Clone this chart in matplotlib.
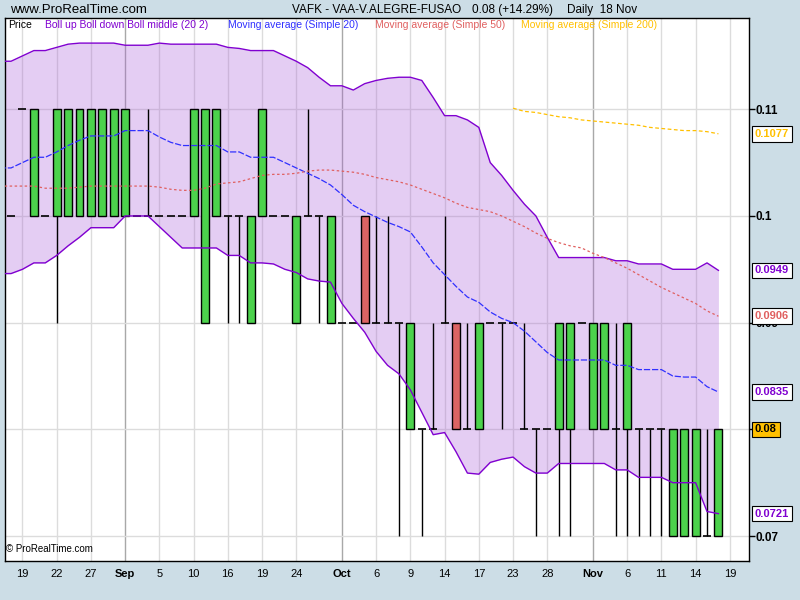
import numpy as np
import matplotlib
matplotlib.use('Agg')
import matplotlib.pyplot as plt

plt.rcParams['font.family'] = ['Liberation Sans', 'DejaVu Sans']

# === DATA ===
# daily candles, Aug 19 .. Nov 18 (index 0..62)
opens = [0.10, 0.11, 0.10, 0.10, 0.10, 0.10, 0.10, 0.10, 0.10, 0.10,
         0.10, 0.10, 0.10, 0.10, 0.10, 0.10, 0.10, 0.09, 0.10, 0.10,
         0.10, 0.09, 0.10, 0.10, 0.10, 0.09, 0.10, 0.10, 0.09, 0.09,
         0.09, 0.10, 0.09, 0.09, 0.09, 0.08, 0.08, 0.08, 0.09, 0.09,
         0.08, 0.08, 0.09, 0.09, 0.09, 0.08, 0.08, 0.08, 0.08, 0.08,
         0.09, 0.08, 0.08, 0.08, 0.08, 0.08, 0.08, 0.08, 0.07, 0.07,
         0.07, 0.07, 0.07]
highs = [0.10, 0.11, 0.11, 0.10, 0.11, 0.11, 0.11, 0.11, 0.11, 0.11,
         0.11, 0.10, 0.11, 0.10, 0.10, 0.10, 0.11, 0.11, 0.11, 0.10,
         0.10, 0.10, 0.11, 0.10, 0.10, 0.10, 0.11, 0.10, 0.10, 0.09,
         0.09, 0.10, 0.10, 0.10, 0.09, 0.09, 0.08, 0.09, 0.10, 0.09,
         0.09, 0.09, 0.09, 0.09, 0.09, 0.09, 0.08, 0.08, 0.09, 0.09,
         0.09, 0.09, 0.09, 0.09, 0.09, 0.08, 0.08, 0.08, 0.08, 0.08,
         0.08, 0.08, 0.08]
lows = [0.10, 0.11, 0.10, 0.10, 0.09, 0.10, 0.10, 0.10, 0.10, 0.10,
        0.10, 0.10, 0.10, 0.10, 0.10, 0.10, 0.10, 0.09, 0.10, 0.09,
        0.09, 0.09, 0.10, 0.10, 0.10, 0.09, 0.10, 0.09, 0.09, 0.09,
        0.09, 0.09, 0.09, 0.09, 0.07, 0.08, 0.07, 0.08, 0.09, 0.08,
        0.08, 0.08, 0.09, 0.08, 0.09, 0.08, 0.07, 0.08, 0.07, 0.07,
        0.09, 0.08, 0.08, 0.07, 0.07, 0.07, 0.07, 0.07, 0.07, 0.07,
        0.07, 0.07, 0.07]
closes = [0.10, 0.11, 0.11, 0.10, 0.11, 0.11, 0.11, 0.11, 0.11, 0.11,
          0.11, 0.10, 0.10, 0.10, 0.10, 0.10, 0.11, 0.11, 0.11, 0.10,
          0.10, 0.10, 0.11, 0.10, 0.10, 0.10, 0.10, 0.10, 0.10, 0.09,
          0.09, 0.09, 0.09, 0.09, 0.09, 0.09, 0.08, 0.08, 0.09, 0.08,
          0.08, 0.09, 0.09, 0.09, 0.09, 0.08, 0.08, 0.08, 0.09, 0.09,
          0.09, 0.09, 0.09, 0.08, 0.09, 0.08, 0.08, 0.08, 0.08, 0.08,
          0.08, 0.07, 0.08]

# indicators start one day earlier (index -1 .. 62)
boll_up = [0.1145, 0.1145, 0.1150, 0.1155, 0.1155, 0.1158, 0.1161, 0.1162, 0.1162, 0.1162,
           0.1162, 0.1160, 0.1160, 0.1160, 0.1162, 0.1161, 0.1161, 0.1161, 0.1161, 0.1161,
           0.1158, 0.1157, 0.1155, 0.1155, 0.1155, 0.1150, 0.1145, 0.1139, 0.1130, 0.1122,
           0.1122, 0.1118, 0.1124, 0.1127, 0.1129, 0.1130, 0.1130, 0.1127, 0.1111, 0.1094,
           0.1094, 0.1090, 0.1083, 0.1050, 0.1038, 0.1024, 0.1011, 0.1000, 0.0980, 0.0961,
           0.0961, 0.0961, 0.0961, 0.0961, 0.0958, 0.0958, 0.0955, 0.0955, 0.0955, 0.0950,
           0.0950, 0.0950, 0.0956, 0.0949]
boll_down = [0.0946, 0.0946, 0.0950, 0.0956, 0.0956, 0.0963, 0.0972, 0.0980, 0.0989, 0.0989,
             0.0989, 0.1000, 0.1000, 0.1000, 0.0990, 0.0980, 0.0970, 0.0970, 0.0970, 0.0970,
             0.0963, 0.0963, 0.0956, 0.0956, 0.0955, 0.0950, 0.0947, 0.0941, 0.0939, 0.0938,
             0.0918, 0.0904, 0.0891, 0.0873, 0.0860, 0.0852, 0.0837, 0.0816, 0.0795, 0.0797,
             0.0779, 0.0759, 0.0758, 0.0769, 0.0772, 0.0774, 0.0765, 0.0759, 0.0759, 0.0768,
             0.0768, 0.0768, 0.0768, 0.0768, 0.0762, 0.0762, 0.0755, 0.0755, 0.0755, 0.0750,
             0.0750, 0.0750, 0.0723, 0.0721]
ma20 = [0.1045, 0.1045, 0.1050, 0.1055, 0.1055, 0.1060, 0.1066, 0.1071, 0.1075, 0.1075,
        0.1075, 0.1080, 0.1080, 0.1080, 0.1074, 0.1069, 0.1066, 0.1066, 0.1066, 0.1066,
        0.1060, 0.1060, 0.1055, 0.1055, 0.1055, 0.1050, 0.1045, 0.1040, 0.1035, 0.1029,
        0.1020, 0.1010, 0.1004, 0.0999, 0.0994, 0.0990, 0.0985, 0.0971, 0.0956, 0.0945,
        0.0934, 0.0924, 0.0919, 0.0910, 0.0904, 0.0900, 0.0892, 0.0882, 0.0872, 0.0865,
        0.0865, 0.0865, 0.0865, 0.0865, 0.0860, 0.0860, 0.0856, 0.0856, 0.0856, 0.0850,
        0.0849, 0.0849, 0.0840, 0.0835]
ma50 = [0.1028, 0.1028, 0.1028, 0.1028, 0.1026, 0.1026, 0.1026, 0.1027, 0.1028, 0.1028,
        0.1028, 0.1028, 0.1028, 0.1028, 0.1027, 0.1025, 0.1024, 0.1024, 0.1026, 0.1030,
        0.1031, 0.1032, 0.1035, 0.1038, 0.1039, 0.1039, 0.1040, 0.1042, 0.1043, 0.1043,
        0.1042, 0.1041, 0.1039, 0.1036, 0.1034, 0.1032, 0.1029, 0.1025, 0.1021, 0.1017,
        0.1012, 0.1008, 0.1006, 0.1004, 0.1000, 0.0995, 0.0990, 0.0984, 0.0979, 0.0975,
        0.0972, 0.0970, 0.0965, 0.0961, 0.0956, 0.0951, 0.0945, 0.0939, 0.0933, 0.0928,
        0.0923, 0.0918, 0.0911, 0.0906]
ma200 = [np.nan] * 45 + [0.1101, 0.1098, 0.1097, 0.1095, 0.1093, 0.1092, 0.1090, 0.1089,
                         0.1088, 0.1087, 0.1086, 0.1085, 0.1083, 0.1082, 0.1081, 0.1080,
                         0.1080, 0.1079, 0.1077]

tick_days = [1, 4, 7, 10, 13, 16, 19, 22, 25, 29, 32, 35, 38, 41, 44, 47, 51, 54, 57, 60, 63]
tick_labels = ['19', '22', '27', 'Sep', '5', '10', '16', '19', '24', 'Oct', '6', '9',
               '14', '17', '23', '28', 'Nov', '6', '11', '14', '19']
month_labels = ['Sep', 'Oct', 'Nov']

price_levels = [0.07, 0.08, 0.09, 0.10, 0.11]
# 0.08 is shown by the last-price box sitting on that tick
price_labels = ['0.07', '', '0.09', '0.1', '0.11']

# === COLOURS ===
BG = '#ccdde6'
GREEN = '#4cd24c'
RED = '#dc6464'
PURPLE = '#8000d0'
BLUE = '#3030ff'
SALMON = '#e06060'
GOLD = '#ffc000'

o = np.array(opens); h = np.array(highs); l = np.array(lows); c = np.array(closes)
days = np.arange(len(c))
ind_days = np.arange(-1, len(c))

fig = plt.figure(figsize=(8, 6), dpi=100, facecolor=BG)
ax = fig.add_axes([5 / 800, 1 - 561 / 600, 744 / 800, 543.5 / 600])
ax.set_facecolor('white')
ax.set_xlim(-0.53, 64.68)
ax.set_ylim(0.06766, 0.1186)

# grid
for d, lab in zip(tick_days, tick_labels):
    ax.axvline(d, color='#a8a8a8' if lab in month_labels else '#dcdcdc', lw=1, zorder=0.5)
for p in price_levels:
    ax.axhline(p, color='#dcdcdc', lw=1, zorder=0.5)

# bollinger band
ax.fill_between(ind_days, boll_down, boll_up, color='#a85cd8', alpha=0.3, lw=0, zorder=1)

# candles
ax.vlines(days, l, h, color='black', lw=1, zorder=2)
up = c > o
dn = c < o
fl = c == o
ax.bar(days[up], (c - o)[up], bottom=o[up], width=0.7, color=GREEN,
       edgecolor='black', lw=1, zorder=3)
ax.bar(days[dn], (o - c)[dn], bottom=c[dn], width=0.7, color=RED,
       edgecolor='black', lw=1, zorder=3)
ax.hlines(c[fl], days[fl] - 0.35, days[fl] + 0.35, color='black', lw=1.2, zorder=3)

# indicator lines
ax.plot(ind_days, boll_up, color=PURPLE, lw=1, zorder=4)
ax.plot(ind_days, boll_down, color=PURPLE, lw=1, zorder=4)
ax.plot(ind_days, ma20, color=BLUE, lw=0.9, dashes=(5, 1.5), zorder=4)
ax.plot(ind_days, ma50, color=SALMON, lw=0.9, dashes=(2, 2), zorder=4)
ax.plot(ind_days, ma200, color=GOLD, lw=0.9, dashes=(3, 2), zorder=4)

# axes
for s in ax.spines.values():
    s.set_color('black')
    s.set_linewidth(1)
ax.set_xticks(tick_days)
ax.set_xticklabels(tick_labels, fontsize=8)
for t in ax.get_xticklabels():
    if t.get_text() in month_labels:
        t.set_fontweight('bold')
ax.tick_params(axis='x', length=0, pad=6)
ax.yaxis.tick_right()
ax.set_yticks(price_levels)
ax.set_yticklabels(price_labels, fontsize=8.5, fontweight='bold')
ax.tick_params(axis='y', length=4, width=1, pad=1, direction='out')

# value boxes on the right
boxes = [(ma200[-1], '0.1077', GOLD, 'white'),
         (boll_up[-1], '0.0949', PURPLE, 'white'),
         (ma50[-1], '0.0906', SALMON, 'white'),
         (ma20[-1], '0.0835', PURPLE, 'white'),
         (closes[-1], '0.08', 'black', GOLD),
         (boll_down[-1], '0.0721', PURPLE, 'white')]
for val, txt, col, fc in boxes:
    ax.text(1.008, val, txt, transform=ax.get_yaxis_transform(), ha='left', va='center',
            fontsize=8, fontweight='bold', color=col, zorder=10, clip_on=False,
            bbox=dict(boxstyle='square,pad=0.25', fc=fc, ec='black', lw=0.8))

# legend line
leg = [(0.004, 'Price', 'black'),
       (0.0538, 'Boll up Boll down Boll middle (20 2)', PURPLE),
       (0.2997, 'Moving average (Simple 20)', BLUE),
       (0.4973, 'Moving average (Simple 50)', SALMON),
       (0.6936, 'Moving average (Simple 200)', GOLD)]
for xpos, txt, col in leg:
    ax.text(xpos, 0.986, txt, transform=ax.transAxes, fontsize=7.5, color=col,
            ha='left', va='center', zorder=10)

ax.text(0.002, 0.012, '\u00a9 ProRealTime.com', transform=ax.transAxes, fontsize=7,
        ha='left', va='bottom', zorder=10)

# header
fig.text(10 / 800, 1 - 10 / 600, 'www.ProRealTime.com', fontsize=9.5, ha='left', va='center')
fig.text(292 / 800, 1 - 10 / 600, 'VAFK - VAA-V.ALEGRE-FUSAO', fontsize=8.5, ha='left', va='center')
fig.text(472 / 800, 1 - 10 / 600, '0.08 (+14.29%)', fontsize=8.5, ha='left', va='center')
fig.text(567 / 800, 1 - 10 / 600, 'Daily  18 Nov', fontsize=8.5, ha='left', va='center')

fig.savefig('out.png', dpi=100, facecolor=BG)
